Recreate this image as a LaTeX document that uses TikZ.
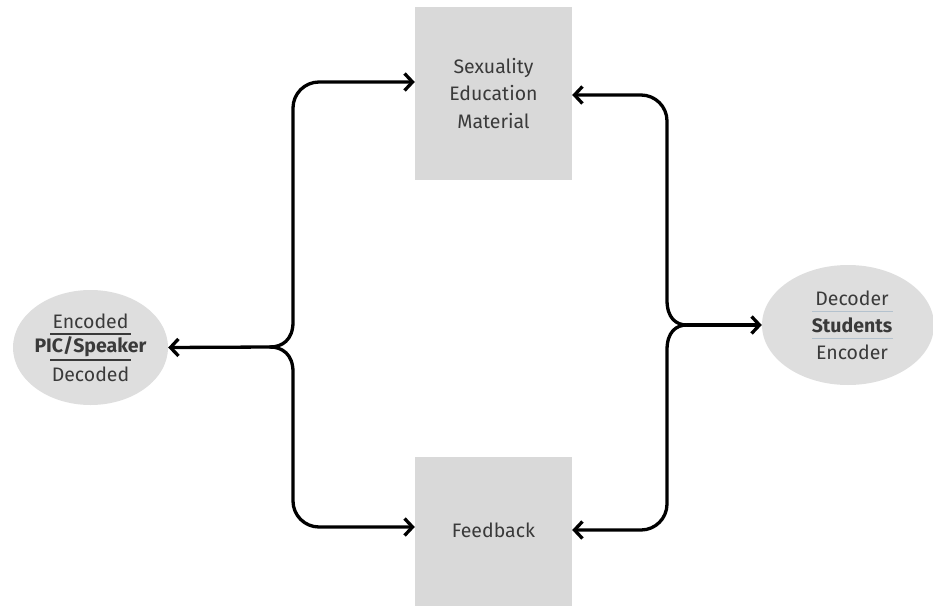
\documentclass[tikz,border=0pt]{standalone}
\usepackage{fontspec}
\setmainfont{Fira Sans}
\usetikzlibrary{arrows.meta,shapes.geometric}
\definecolor{boxfill}{HTML}{D9D9D9}
\definecolor{ellfill}{HTML}{DEDEDE}
\definecolor{txtcol}{HTML}{3A3A3A}
\definecolor{bluerule}{HTML}{B4C2CE}
\tikzset{
  box/.style={fill=boxfill, draw=none, align=center, text=txtcol, font=\fontsize{19.5}{27.5}\selectfont, inner sep=0pt},
  ell/.style={ellipse, fill=ellfill, draw=none, inner sep=0pt},
  lbl/.style={text=txtcol, font=\fontsize{19.5}{22}\selectfont, inner sep=0pt},
  bl/.style={lbl, font=\fontsize{19.5}{22}\selectfont\bfseries},
  conn/.style={line width=3.3pt, line cap=round, line join=round, -{Straight Barb[length=8pt,width=17pt,line width=3.3pt]}},
}
\begin{document}
\begin{tikzpicture}[x=1pt,y=-1pt]
\useasboundingbox (0,0) rectangle (933,605);
% boxes
\node[box, minimum width=157pt, minimum height=173pt] (sem) at (493.5,93.5) {Sexuality\\Education\\Material};
\node[box, minimum width=157pt, minimum height=149pt] (fb) at (493.5,531.5) {};
\node[lbl] (fbt) at (493.5,530) {Feedback};
% ellipses
\node[ell, minimum width=155pt, minimum height=115pt] (pic) at (90.5,347.5) {};
\node[ell, minimum width=172pt, minimum height=120pt] (stu) at (848,325) {};
% left ellipse text
\node[lbl] (enc) at (90.5,321) {Encoded};
\node[bl] (pics) at (90.5,347) {PIC/Speaker};
\node[lbl] (dec) at (90.5,374) {Decoded};
\coordinate (r1a) at (50,334); \coordinate (r1b) at (131,334);
\coordinate (r2a) at (50,360); \coordinate (r2b) at (131,360);
\draw[line width=1.4pt, txtcol] (r1a) -- (r1b);
\draw[line width=1.4pt, txtcol] (r2a) -- (r2b);
% right ellipse text
\node[lbl] (dcd) at (852,298) {Decoder};
\node[bl] (stus) at (852,325) {Students};
\node[lbl] (ecd) at (852,352) {Encoder};
\coordinate (s1a) at (812,311.5); \coordinate (s1b) at (893,311.5);
\coordinate (s2a) at (812,338.5); \coordinate (s2b) at (893,338.5);
\draw[line width=1.4pt, bluerule] (s1a) -- (s1b);
\draw[line width=1.4pt, bluerule] (s2a) -- (s2b);
% levels
\coordinate (ytl) at (0,82);
\coordinate (ybl) at (0,527);
\coordinate (ytr) at (0,95);
\coordinate (ybr) at (0,530);
% left brace
\coordinate (lt) at (270,347);
\coordinate (lu) at (293,322);
\coordinate (ld) at (293,372);
\coordinate (lc1) at (293,82);
\coordinate (lc2) at (293,527);
\draw[conn] (lt) .. controls (282,347) and (293,340) .. (lu) [rounded corners=26pt] -- (lc1) -- (sem.west |- ytl);
\draw[conn] (lt) .. controls (282,347) and (293,354) .. (ld) [rounded corners=26pt] -- (lc2) -- (fb.west |- ybl);
\draw[conn] (lt) -- (pic.east);
% right brace
\coordinate (rt) at (687,325);
\coordinate (ru) at (667,300);
\coordinate (rd) at (667,350);
\coordinate (rc1) at (667,95);
\coordinate (rc2) at (667,530);
\draw[conn] (rt) .. controls (676,325) and (667,318) .. (ru) [rounded corners=26pt] -- (rc1) -- (sem.east |- ytr);
\draw[conn] (rt) .. controls (676,325) and (667,332) .. (rd) [rounded corners=26pt] -- (rc2) -- (fb.east |- ybr);
\draw[conn] (rt) -- (stu.west);
\end{tikzpicture}
\end{document}
